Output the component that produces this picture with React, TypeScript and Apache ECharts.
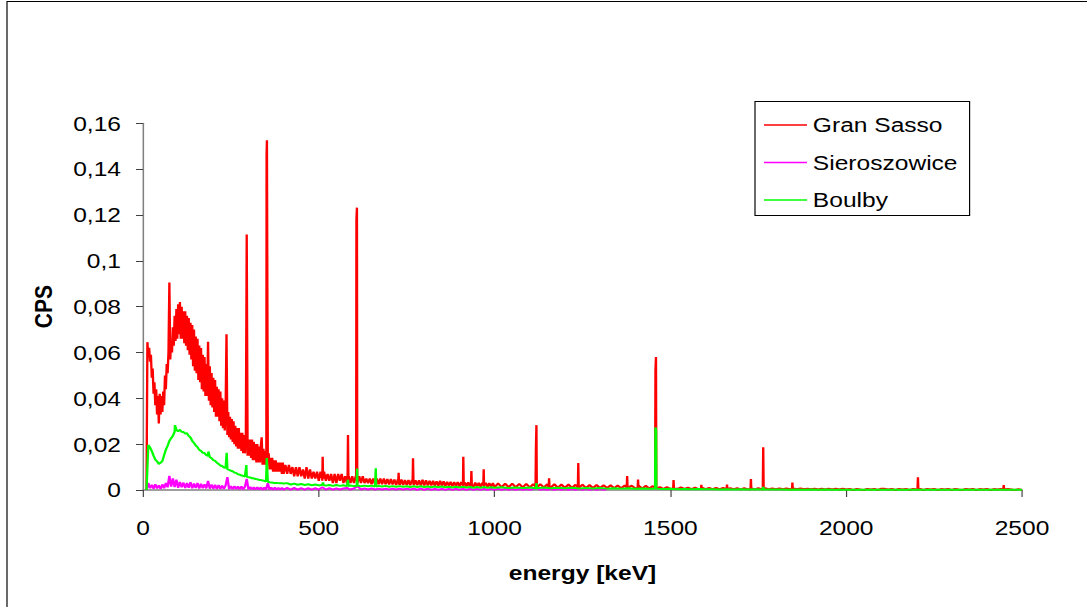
import React, { useEffect, useRef } from "react";
import * as echarts from "echarts";

// ---- layout helpers (the picture is horizontally stretched, so the chart is drawn narrower and scaled) ----
const OUT_W = 1087;
const OUT_H = 607;
const CHART_W = 929;
const SX = OUT_W / CHART_W;
const px = (v: number) => v / SX;

const FONT = "'Liberation Sans', Arial, sans-serif";

// ---- names / colours / ticks ----
const seriesNames = ["Gran Sasso", "Sieroszowice", "Boulby"];
const seriesColors = ["#ff0000", "#ff00ff", "#00ff00"];
const xMin = 0;
const xMax = 2500;
const xInterval = 500;
const yMin = 0;
const yMax = 0.16;
const yInterval = 0.02;
const xAxisName = "energy [keV]";
const yAxisName = "CPS";

// ---- Gran Sasso (red) ----
// channels 10 .. 400 keV, step 2.5 keV
const redLowStart = 10;
const redLowStep = 2.5;
const redLow = [
  0, 0.0645, 0.058, 0.062, 0.056, 0.059, 0.049, 0.053, 0.042, 0.047,
  0.037, 0.044, 0.033, 0.041, 0.029, 0.042, 0.033, 0.041, 0.034, 0.043,
  0.037, 0.050, 0.044, 0.055, 0.051, 0.060, 0.0905, 0.057, 0.065, 0.060,
  0.071, 0.063, 0.076, 0.065, 0.079, 0.066, 0.081, 0.068, 0.082, 0.066,
  0.080, 0.066, 0.078, 0.064, 0.078, 0.063, 0.076, 0.061, 0.075, 0.059,
  0.073, 0.057, 0.072, 0.054, 0.070, 0.052, 0.067, 0.051, 0.066, 0.048,
  0.063, 0.047, 0.062, 0.044, 0.059, 0.043, 0.058, 0.041, 0.055, 0.041,
  0.0647, 0.039, 0.054, 0.037, 0.051, 0.036, 0.049, 0.034, 0.048, 0.032,
  0.045, 0.032, 0.044, 0.030, 0.043, 0.028, 0.040, 0.027, 0.039, 0.026,
  0.036, 0.068, 0.024, 0.034, 0.023, 0.032, 0.022, 0.031, 0.021, 0.030,
  0.020, 0.028, 0.019, 0.027, 0.018, 0.027, 0.018, 0.025, 0.017, 0.025,
  0.016, 0.024, 0.016, 0.023, 0.1115, 0.015, 0.022, 0.015, 0.022, 0.014,
  0.022, 0.013, 0.021, 0.013, 0.020, 0.012, 0.020, 0.012, 0.019, 0.012,
  0.019, 0.023, 0.011, 0.018, 0.011, 0.017, 0.011, 0.1526, 0.012, 0.016,
  0.009, 0.014, 0.009, 0.014, 0.008, 0.013, 0.008, 0.013, 0.008, 0.012,
  0.008, 0.012, 0.008, 0.012, 0.007, 0.012, 0.007,
];
// channels 405 .. 1000 keV, step 5 keV
const redMidStart = 405;
const redMidStep = 5;
const redMid = [
  0.011, 0.007, 0.011, 0.007, 0.010, 0.006, 0.010, 0.006, 0.010, 0.006,
  0.009, 0.005, 0.010, 0.005, 0.009, 0.005, 0.008, 0.005, 0.008, 0.004,
  0.008, 0.004, 0.008, 0.004, 0.007, 0.004, 0.007, 0.003, 0.007, 0.003,
  0.007, 0.004, 0.007, 0.003, 0.006, 0.003, 0.006, 0.003, 0.006, 0.003,
  0.006, 0.003, 0.006, 0.003, 0.006, 0.003, 0.005, 0.003, 0.005, 0.0025,
  0.005, 0.0025, 0.005, 0.0025, 0.005, 0.0025, 0.005, 0.0025, 0.0048, 0.0024,
  0.0048, 0.0024, 0.0046, 0.0022, 0.0046, 0.0022, 0.0046, 0.0022, 0.0044, 0.0022,
  0.0044, 0.0021, 0.0044, 0.0021, 0.0042, 0.0021, 0.0042, 0.002, 0.0045, 0.002,
  0.0042, 0.002, 0.004, 0.002, 0.004, 0.0019, 0.0038, 0.0019, 0.004, 0.0018,
  0.0038, 0.0018, 0.0036, 0.0018, 0.0036, 0.0017, 0.0035, 0.0017, 0.0034, 0.0016,
  0.0034, 0.0016, 0.0033, 0.0016, 0.0033, 0.0015, 0.0032, 0.0015, 0.0032, 0.0015,
  0.0031, 0.0015, 0.0031, 0.0014, 0.0031, 0.0014, 0.003, 0.0014, 0.003, 0.0013,
];
// channels 1010 .. 2500 keV, step 10 keV
const redHighStart = 1010;
const redHighStep = 10;
const redHigh = [
  0.0029, 0.0012, 0.0028, 0.0012, 0.0028, 0.0012, 0.0027, 0.0011, 0.0027, 0.0011,
  0.0026, 0.0011, 0.0026, 0.0011, 0.0025, 0.0011, 0.0025, 0.001, 0.0024, 0.001,
  0.0024, 0.001, 0.0023, 0.001, 0.0023, 0.0009, 0.0022, 0.0009, 0.0022, 0.0009,
  0.0021, 0.0009, 0.0021, 0.0008, 0.002, 0.0008, 0.002, 0.0008, 0.0019, 0.0008,
  0.0018, 0.0007, 0.0018, 0.0007, 0.0017, 0.0007, 0.0012, 0.0005, 0.0012, 0.0005,
  0.0011, 0.0005, 0.0011, 0.0005, 0.001, 0.0004, 0.001, 0.0004, 0.001, 0.0004,
  0.0009, 0.0004, 0.0009, 0.0004, 0.0009, 0.0004, 0.0008, 0.0004, 0.0008, 0.0003,
  0.0008, 0.0003, 0.0008, 0.0003, 0.0008, 0.0003, 0.0008, 0.0003, 0.0007, 0.0003,
  0.0007, 0.0003, 0.0007, 0.0003, 0.0007, 0.0003, 0.0007, 0.0003, 0.0006, 0.0003,
  0.0006, 0.0002, 0.0006, 0.0002, 0.0006, 0.0002, 0.0006, 0.0002, 0.0006, 0.0002,
  0.0005, 0, 0.0005, 0.0002, 0, 0.0005, 0.0002, 0.0005, 0, 0.0006,
  0.0005, 0.0002, 0.0005, 0, 0.0005, 0.0002, 0.0005, 0, 0.0005, 0.0002,
  0.0005, 0, 0.0005, 0.0002, 0.0005, 0, 0.0004, 0.0002, 0.0005, 0,
  0.0005, 0.0002, 0, 0.0005, 0.0002, 0.0005, 0, 0.0004, 0.0002, 0.0005,
  0, 0.0004, 0.0002, 0.0005, 0, 0.0004, 0.0002, 0, 0.0004, 0,
];
// gamma lines [keV, CPS], with the continuum level read just beside each line
const redPeaks: [number, number][] = [
  [350.8, 0.012], [351.5, 0.146],
  [509.8, 0.005], [511, 0.0145], [512.2, 0.005],
  [581.8, 0.004], [583, 0.024], [584.2, 0.004],
  [606.2, 0.004], [607, 0.118], [608.5, 0.1232], [609.3, 0.004],
  [725.8, 0.003], [727, 0.0075], [728.2, 0.003],
  [766.8, 0.003], [768, 0.0138], [769.2, 0.003],
  [909.8, 0.002], [911, 0.0145], [912.2, 0.002],
  [932.8, 0.002], [934, 0.0083], [935.2, 0.002],
  [967.8, 0.002], [969, 0.009], [970.2, 0.002],
  [1116.5, 0.0015], [1117.5, 0.018], [1119, 0.0283],
  [1153.8, 0.0012], [1155, 0.0051], [1156.2, 0.0012],
  [1236.8, 0.001], [1238, 0.0118], [1239.2, 0.001],
  [1375.8, 0.0009], [1377, 0.0061], [1378.2, 0.0009],
  [1406.8, 0.0008], [1408, 0.0046], [1409.2, 0.0008],
  [1456.5, 0.0008], [1457.5, 0.052], [1459, 0.058],
  [1507.8, 0.0005], [1509, 0.0044], [1510.2, 0.0005],
  [1586.8, 0.0004], [1588, 0.0022], [1589.2, 0.0004],
  [1659.8, 0.0004], [1661, 0.0024], [1662.2, 0.0004],
  [1727.8, 0.0003], [1729, 0.0048],
  [1762.8, 0.0003], [1764, 0.0186], [1765.2, 0.0003],
  [1845.8, 0.0003], [1847, 0.0032], [1848.2, 0.0003],
  [2202.8, 0.0002], [2204, 0.0055], [2205.2, 0.0002],
  [2446.8, 0.0002], [2448, 0.0022], [2449.2, 0.0002],
];

// ---- Sieroszowice (magenta) ----
const magLowStart = 10;
const magLowStep = 5;
const magLow = [
  0, 0.0030, 0.0008, 0.0022, 0.0006, 0.0025, 0.0007, 0.0020, 0.0005, 0.0024,
  0.0008, 0.0030, 0.0012, 0.0062, 0.0015, 0.0050, 0.0013, 0.0045, 0.0010, 0.0035,
  0.0012, 0.0032, 0.0009, 0.0030, 0.0010, 0.0034, 0.0008, 0.0028, 0.0009, 0.0030,
  0.0007, 0.0027, 0.0008, 0.0025, 0.0007, 0.0040, 0.0006, 0.0024, 0.0006, 0.0022,
  0.0005, 0.0021, 0.0005, 0.0019, 0.0005, 0.0020, 0.0056, 0.0004, 0.0017, 0.0004,
  0.0016, 0.0004, 0.0015, 0.0003, 0.0015, 0.0003, 0.0014, 0.0048, 0.0003, 0.0013,
  0.0003, 0.0012, 0.0003, 0.0012, 0.0003, 0.0011, 0.0002, 0.0011, 0.0002, 0.0030,
  0.0002, 0.0010, 0.0002, 0.0010, 0.0002, 0.0009, 0.0002, 0.0009, 0.0002,
];
const magHighStart = 410;
const magHighStep = 10;
const magHigh = [
  0.0009, 0.0002, 0.0009, 0.0002, 0.0008, 0.0002, 0.0008, 0.0002, 0.0008, 0.0002,
  0.0012, 0.0002, 0.0008, 0.0002, 0.0007, 0.0002, 0.0007, 0.0009, 0.0002, 0.0007,
  0.0017, 0.0002, 0.0007, 0.0002, 0.0007, 0.0002, 0.0006, 0.0002, 0.0006, 0.0002,
  0.0006, 0.0002, 0.0006, 0.0002, 0.0006, 0.0002, 0.0006, 0.0001, 0.0006, 0.0001,
  0.0006, 0.0001, 0.0005, 0.0001, 0.0005, 0.0001, 0.0005, 0.0001, 0.0005, 0.0001,
  0.0005, 0.0001, 0.0005, 0.0001, 0.0005, 0.0001, 0.0005, 0.0001, 0.0005, 0.0001,
  0.0005, 0.0001, 0.0005, 0.0001, 0.0004, 0.0001, 0.0004, 0.0001, 0.0004, 0.0001,
  0.0004, 0.0008, 0.0001, 0.0004, 0.0001, 0.0004, 0.0001, 0.0004, 0.0001, 0.0004,
  0.0001, 0.0004, 0.0001, 0.0004, 0.0001, 0.0004, 0.0001, 0.0004, 0.0001, 0.0004,
  0.0001, 0.0004,
];

// ---- Boulby (green) ----
const greenLowStart = 10;
const greenLowStep = 5;
const greenLow = [
  0, 0.0196, 0.0186, 0.0170, 0.0150, 0.0133, 0.0125, 0.0114, 0.0119, 0.0126,
  0.0152, 0.0176, 0.0193, 0.0214, 0.0226, 0.0236, 0.0255, 0.0262, 0.0256, 0.0263,
  0.0254, 0.0253, 0.0247, 0.0248, 0.0236, 0.0229, 0.0214, 0.0205, 0.0194, 0.0187,
  0.0175, 0.0171, 0.0162, 0.0161, 0.0152, 0.0149, 0.0143, 0.0139, 0.0130, 0.0127,
  0.0119, 0.0114, 0.0107, 0.0105, 0.0098, 0.0097, 0.0090, 0.0088, 0.0084, 0.0082,
  0.0076, 0.0074, 0.0069, 0.0067, 0.0063, 0.0062, 0.0059, 0.0058, 0.0056, 0.0055,
  0.0051, 0.0051, 0.0048, 0.0047, 0.0044, 0.0044, 0.0041, 0.0040, 0.0037, 0.0036,
  0.0034, 0.0033, 0.0032, 0.0031, 0.0031, 0.0030, 0.0029, 0.0029, 0.0028,
];
const greenMidStart = 410;
const greenMidStep = 10;
const greenMid = [
  0.0030, 0.0024, 0.0028, 0.0023, 0.0026, 0.0022, 0.0025, 0.0021, 0.0024, 0.0020,
  0.0023, 0.0019, 0.0022, 0.0018, 0.0022, 0.0018, 0.0021, 0.0017, 0.0020, 0.0017,
  0.0020, 0.0016, 0.0019, 0.0016, 0.0019, 0.0015, 0.0018, 0.0015, 0.0018, 0.0014,
  0.0017, 0.0014, 0.0017, 0.0014, 0.0016, 0.0013, 0.0016, 0.0013, 0.0016, 0.0013,
  0.0015, 0.0012, 0.0015, 0.0012, 0.0015, 0.0012, 0.0014, 0.0011, 0.0014, 0.0011,
  0.0014, 0.0011, 0.0013, 0.0010, 0.0013, 0.0010, 0.0013, 0.0010, 0.0012, 0.0010,
];
const greenHighStart = 1020;
const greenHighStep = 20;
const greenHigh = [
  0.0012, 0.0009, 0.0011, 0.0009, 0.0011, 0.0008, 0.0011, 0.0008, 0.0010, 0.0008,
  0.0010, 0.0007, 0.0009, 0.0007, 0.0009, 0.0006, 0.0008, 0.0006, 0.0008, 0.0005,
  0.0007, 0.0005, 0.0006, 0.0004, 0.0005, 0.0003, 0.0004, 0.0003, 0.0004, 0.0003,
  0.0003, 0.0002, 0.0003, 0.0002, 0.0003, 0.0002, 0.0003, 0.0002, 0.0002, 0.0002,
  0.0002, 0.0001, 0.0002, 0.0001, 0.0002, 0.0001, 0.0002, 0.0001, 0.0001, 0.0001,
  0.0001, 0.0001, 0.0001, 0.0001, 0.0001, 0.0001, 0.0001, 0.0001, 0.0001, 0.0001,
  0.0001, 0.0001, 0.0001, 0.0001, 0.0001, 0.0001, 0.0001, 0.0001, 0.0001, 0.0001,
  0.0001, 0.0001, 0.0001, 0.0001, 0.0001,
];
const greenPeaks: [number, number][] = [
  [91, 0.0283], [186, 0.0168], [238, 0.0162], [294, 0.0109], [352, 0.014],
  [512, 0.0033], [513.2, 0.0022],
  [581.8, 0.0017], [583, 0.0045], [584.2, 0.0017],
  [607.8, 0.0016], [609, 0.0094],
  [660.8, 0.0015], [662, 0.0095], [663.2, 0.0015],
  [1117.8, 0.0008], [1119, 0.003],
  [1456.5, 0.0005], [1457.5, 0.0273], [1459.3, 0.026],
  [1762.8, 0.0002], [1764, 0.0014], [1765.2, 0.0002],
];

// ---- builders ----
function channels(start: number, step: number, vals: number[]): [number, number][] {
  return vals.map((v, i) => [start + i * step, v]);
}
function spectrum(...parts: [number, number][][]): [number, number][] {
  const all: [number, number][] = [];
  parts.forEach((p) => p.forEach((pt) => all.push(pt)));
  all.sort((a, b) => a[0] - b[0]);
  return all;
}

const redData = spectrum(
  channels(redLowStart, redLowStep, redLow),
  channels(redMidStart, redMidStep, redMid),
  channels(redHighStart, redHighStep, redHigh),
  redPeaks
);
const magData = spectrum(
  channels(magLowStart, magLowStep, magLow),
  channels(magHighStart, magHighStep, magHigh)
);
const greenData = spectrum(
  channels(greenLowStart, greenLowStep, greenLow),
  channels(greenMidStart, greenMidStep, greenMid),
  channels(greenHighStart, greenHighStep, greenHigh),
  greenPeaks
);
const allData = [redData, magData, greenData];

function fmtY(v: number): string {
  if (v === 0) return "0";
  return String(parseFloat(v.toFixed(2))).replace(".", ",");
}
function fmtX(v: number): string {
  return String(Math.round(v));
}

export default function App() {
  const ref = useRef<HTMLDivElement>(null);

  useEffect(() => {
    document.body.style.margin = "0";
    if (!ref.current) return;
    const chart = echarts.init(ref.current, null, { renderer: "svg" });
    const axisColor = "#808080";
    chart.setOption({
      animation: false,
      backgroundColor: "#ffffff",
      textStyle: { fontFamily: FONT },
      grid: {
        left: px(143),
        right: CHART_W - px(1022),
        top: 123.3,
        bottom: OUT_H - 490,
        containLabel: false,
      },
      legend: {
        orient: "vertical",
        left: px(755),
        top: 101.5,
        padding: [12, px(12), 4, px(9)],
        itemGap: 14.5,
        icon: "rect",
        itemWidth: px(43),
        itemHeight: 1.6,
        borderColor: "#000",
        borderWidth: 1,
        backgroundColor: "#fff",
        selectedMode: false,
        data: seriesNames,
        textStyle: { fontSize: 21, fontFamily: FONT, color: "#000", lineHeight: 23 },
      },
      xAxis: {
        type: "value",
        min: xMin,
        max: xMax,
        interval: xInterval,
        name: xAxisName,
        nameLocation: "middle",
        nameGap: 72,
        nameTextStyle: { fontSize: 21, fontWeight: "bold", color: "#000", fontFamily: FONT },
        axisLine: { show: true, onZero: false, lineStyle: { color: axisColor, width: 1.5 } },
        axisTick: { show: true, inside: false, length: 7, lineStyle: { color: "#404040", width: 1 } },
        axisLabel: { fontSize: 21, color: "#000", margin: 27, fontFamily: FONT, formatter: fmtX },
        splitLine: { show: false },
      },
      yAxis: {
        type: "value",
        min: yMin,
        max: yMax,
        interval: yInterval,
        name: yAxisName,
        nameLocation: "middle",
        nameRotate: 90,
        nameGap: 75,
        nameTextStyle: { fontSize: 21, fontWeight: "bold", color: "#000", fontFamily: FONT },
        axisLine: { show: true, lineStyle: { color: axisColor, width: 1.3 } },
        axisTick: { show: true, inside: false, length: px(7), lineStyle: { color: "#404040", width: 1 } },
        axisLabel: { fontSize: 21, color: "#000", margin: px(22), fontFamily: FONT, formatter: fmtY },
        splitLine: { show: false },
      },
      graphic: [
        {
          type: "rect",
          silent: true,
          shape: { x: px(7), y: 1.5, width: 2000, height: 2000 },
          style: { fill: "none", stroke: "#000", lineWidth: 1 },
        },
      ],
      series: seriesNames.map((name, i) => ({
        name,
        type: "line",
        data: allData[i],
        symbol: "none",
        showSymbol: false,
        smooth: false,
        color: seriesColors[i],
        lineStyle: { color: seriesColors[i], width: 2 },
        itemStyle: { color: seriesColors[i] },
        z: 2 + i,
      })),
    });
    return () => chart.dispose();
  }, []);

  return (
    <div
      style={{
        position: "fixed",
        left: 0,
        top: 0,
        width: OUT_W,
        height: OUT_H,
        overflow: "hidden",
        background: "#fff",
      }}
    >
      <div
        ref={ref}
        style={{
          width: CHART_W,
          height: OUT_H,
          transform: `scaleX(${SX})`,
          transformOrigin: "0 0",
        }}
      />
    </div>
  );
}
